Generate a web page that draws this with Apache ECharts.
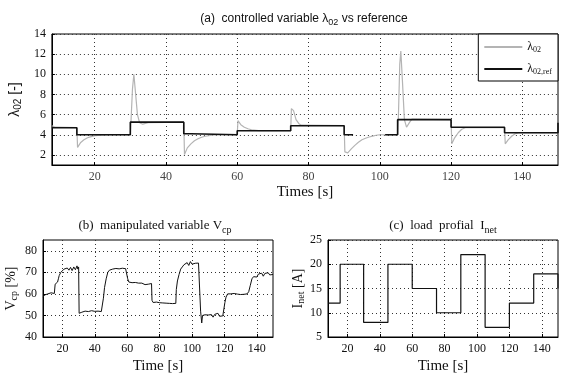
<!DOCTYPE html>
<html>
<head>
<meta charset="utf-8">
<script src="https://cdn.jsdelivr.net/npm/echarts@6/dist/echarts.min.js"></script>
<style>
  html, body { margin: 0; padding: 0; background: #fff; }
  #chart { width: 580px; height: 375px; }
</style>
</head>
<body>
<div id="chart"></div>
<script>
// time ticks shared by all three plots
const timeTicks = [20, 40, 60, 80, 100, 120, 140]
const lamTicks = [2, 4, 6, 8, 10, 12, 14]
const vcpTicks = [40, 50, 60, 70, 80]
const inetTicks = [5, 10, 15, 20, 25]

// (a) measured lambda_O2 [t, value]
const lam02 = [
  [8, 4.9], [9, 4.75], [15, 4.7], [15.2, 2.75], [16, 3.2], [17, 3.5], [18, 3.7], [19, 3.82], [20, 3.9],
  [22, 3.97], [24, 4.0], [30, 4.0], [30.2, 5.4], [30.6, 8.5], [31, 10.0], [31.5, 8.0], [32, 6.0],
  [32.6, 5.2], [33.5, 5.05], [35, 5.2], [45, 5.25], [45.2, 2.05], [46, 2.7], [47, 3.1], [48, 3.4],
  [49, 3.6], [50, 3.75], [51, 3.85], [53, 3.95], [55, 4.0], [60, 4.0], [60.2, 5.4], [61, 5.0],
  [62, 4.75], [63, 4.6], [64, 4.5], [66, 4.42], [75, 4.4], [75.2, 6.6], [75.8, 6.4], [76.5, 5.5],
  [77.3, 5.1], [78, 4.95], [90, 4.9], [90.2, 2.3], [91, 2.2], [92, 2.6], [93, 2.95], [94, 3.25],
  [95, 3.5], [96, 3.65], [97, 3.78], [98, 3.87], [99, 3.95], [100, 4.0], [105, 4.0], [105.2, 5.5],
  [105.6, 11.0], [105.9, 12.3], [106.4, 9.0], [106.9, 5.5], [107.5, 4.75], [108.3, 5.2], [109, 5.55],
  [120, 5.5], [120.2, 3.1], [121, 3.7], [122, 4.2], [123, 4.55], [124, 4.7], [135, 4.7], [135.2, 3.1],
  [136, 3.5], [137, 3.85], [138, 4.1], [139, 4.2], [150, 4.2]
]
// (a) reference lambda_O2,ref
const lam02ref = [
  [8, 4.7], [15, 4.7], [15, 4.0], [30, 4.0], [30, 5.25], [45, 5.25], [45, 4.1], [47, 4.1], [47, 4.0],
  [60, 4.0], [60, 4.4], [75, 4.4], [75, 4.9], [90, 4.9], [90, 4.0], [92.5, 4.0], [96, '-'],
  [101.5, 4.0], [105, 4.0], [105, 5.5], [120, 5.5], [120, 4.75], [135, 4.75], [135, 4.2],
  [150, 4.2], [150, 5.2]
]
// (b) compressor voltage V_cp [%]
const vcp = [
  [8, 58.5], [9, 59.5], [10, 59], [11, 60], [12, 59.2], [13, 60.5], [14, 59.8], [15, 60.2],
  [15.5, 64.5], [16, 65], [17, 65.5], [17.5, 67], [18, 68.5], [19, 70], [20, 70.5], [21, 71.5],
  [22, 70.8], [23, 72], [24, 71], [25, 72.3], [26, 70.8], [27, 72.5], [28, 71.2], [29, 73],
  [29.5, 71.5], [30, 72.5], [30.3, 51], [31, 50.5], [32, 51.5], [33, 51.2], [34, 52], [35, 51.3],
  [36, 51.8], [37, 51], [38, 52.2], [39, 51.4], [40, 51.9], [41, 51.2], [42, 52], [43, 51.4],
  [44, 51.8], [45, 51.5], [45.3, 58], [46, 63], [47, 67], [48, 70], [49, 71], [50, 70.5],
  [51, 71.5], [52, 71.2], [53, 71.8], [54, 71], [55, 71.6], [56, 71.2], [57, 71.9], [58, 71.1],
  [59, 71.7], [60, 71.3], [60.3, 67], [61, 65.5], [62, 66], [63, 65.2], [64, 64.8], [65, 65.3],
  [66, 64.5], [67, 65], [68, 64.2], [69, 65], [70, 64.8], [71, 64.3], [72, 65.2], [73, 64.5],
  [74, 65], [75, 64.8], [75.3, 57], [76, 56], [77, 55.5], [78, 56.2], [79, 55.4], [80, 55.9],
  [81, 55.2], [82, 55.8], [83, 55.1], [84, 55.7], [85, 55], [86, 55.6], [87, 54.9], [88, 55.5],
  [89, 55.2], [90, 55.6], [90.3, 62], [91, 66], [92, 69], [93, 71.5], [94, 72.5], [95, 73.5],
  [96, 73], [97, 74.5], [98, 73.2], [99, 75], [100, 73.8], [101, 74.6], [102, 74.2], [103, 74.5],
  [104, 74.3], [105, 74.4], [105.3, 52], [106, 46.5], [106.5, 50], [107, 49.5], [108, 50.3],
  [109, 49.8], [110, 50.2], [111, 49.5], [112, 50.4], [113, 49.2], [114, 50.5], [115, 49.8],
  [116, 51], [117, 49.6], [118, 50.3], [119, 49.8], [120, 50.5], [120.3, 56], [121, 58.5],
  [122, 60], [123, 59.2], [124, 60], [125, 59.5], [126, 60.2], [127, 59.4], [128, 59.9],
  [129, 59.1], [130, 59.7], [131, 59.2], [132, 59.8], [133, 59.4], [134, 60], [135, 61],
  [136, 64], [137, 67], [138, 68], [139, 68.5], [140, 67.8], [141, 69.2], [142, 68.4],
  [143, 69.6], [144, 68.2], [145, 69.5], [146, 68.6], [147, 69.8], [148, 68.8], [149, 69.5], [150, 69]
]
// (c) load profile I_net [A]
const inet = [
  [8, 12], [15.5, 12], [15.5, 20], [30, 20], [30, 8], [45, 8], [45, 20], [60, 20], [60, 15],
  [75, 15], [75, 10], [90, 10], [90, 22], [105, 22], [105, 7], [120, 7], [120, 12], [135, 12],
  [135, 18], [150, 18], [150, 15]
]

const serif = 'Liberation Serif'
const sans = 'Liberation Sans'
const grids = [
  { left: 40, right: 22, top: 34, height: 131 },
  { left: 43, right: 307, top: 240, height: 98 },
  { left: 328, right: 22, top: 240, height: 98 }
]

function xAx (gi, name) {
  return {
    type: 'value', gridIndex: gi, min: 8, max: 150,
    name: name, nameLocation: 'middle', nameGap: gi === 0 ? 20 : 22,
    nameTextStyle: { fontFamily: serif, fontSize: 15, color: '#111' },
    axisLine: { show: true, onZero: false, lineStyle: { color: '#000', width: 1 } },
    axisTick: { inside: true, length: 3, customValues: timeTicks, lineStyle: { color: '#000' } },
    axisLabel: { customValues: timeTicks, fontFamily: serif, fontSize: 12, color: gi === 0 ? '#444' : '#111', margin: 6 },
    splitLine: { show: true, lineStyle: { color: '#333', type: [1, 3], width: 1 } }
  }
}
function yAx (gi, min, max, ticks, name, gap) {
  return {
    type: 'value', gridIndex: gi, min: min, max: max,
    name: name, nameLocation: 'middle', nameGap: gap,
    nameTextStyle: {
      fontFamily: gi === 0 ? sans : serif, fontSize: 14, color: '#111',
      rich: {
        m: { fontFamily: gi === 0 ? sans : serif, fontSize: 14, color: '#111' },
        s: { fontFamily: gi === 0 ? sans : serif, fontSize: 10, color: '#111', verticalAlign: 'bottom', padding: [6, 0, 0, 0] }
      }
    },
    axisLine: { show: true, onZero: false, lineStyle: { color: '#000', width: 1 } },
    axisTick: { inside: true, length: 3, customValues: ticks, lineStyle: { color: '#000' } },
    axisLabel: { customValues: ticks, fontFamily: serif, fontSize: 12, color: '#111', margin: 6 },
    splitLine: { show: true, lineStyle: { color: '#333', type: [1, 3], width: 1 } }
  }
}

const titleRich = function (font, size) {
  return {
    fontFamily: font, fontSize: size, fontWeight: 'normal', color: '#111',
    rich: {
      m: { fontFamily: font, fontSize: size, color: '#111' },
      s: { fontFamily: font, fontSize: size - 3, color: '#111', padding: [8, 0, 0, 0] }
    }
  }
}

const option = {
  animation: false,
  backgroundColor: '#fff',
  title: [
    { text: '{m|(a)  controlled variable λ}{s|02}{m| vs reference}', left: 299, textAlign: 'center', top: 5, textStyle: titleRich(sans, 12) },
    { text: '{m|(b)  manipulated variable V}{s|cp}', left: 150, textAlign: 'center', top: 212, textStyle: titleRich(serif, 13) },
    { text: '{m|(c)  load  profial  I}{s|net}', left: 438, textAlign: 'center', top: 212, textStyle: titleRich(serif, 13) }
  ],
  legend: {
    orient: 'vertical', right: 22, top: 34, width: 81,
    backgroundColor: '#fff', borderColor: '#000', borderWidth: 1, borderRadius: 0,
    padding: [7, 6, 5, 6], itemGap: 9, itemWidth: 38, itemHeight: 2, icon: 'rect',
    data: ['lam', 'ref'],
    formatter: function (name) {
      return name === 'lam' ? '{m|λ}{s|02}' : '{m|λ}{s|02,ref}'
    },
    textStyle: {
      rich: {
        m: { fontFamily: serif, fontSize: 12, color: '#111' },
        s: { fontFamily: serif, fontSize: 8, color: '#111', padding: [6, 0, 0, 0] }
      }
    }
  },
  grid: grids.map(g => Object.assign({ show: true, borderColor: '#000', borderWidth: 1, backgroundColor: '#fff' }, g)),
  xAxis: [xAx(0, 'Times [s]'), xAx(1, 'Time [s]'), xAx(2, 'Time [s]')],
  yAxis: [
    yAx(0, 1, 14, lamTicks, '{m|λ}{s|02}{m| [-]}', 22),
    yAx(1, 40, 85, vcpTicks, '{m|V}{s|cp}{m| [%]}', 24),
    yAx(2, 5, 25, inetTicks, '{m|I}{s|net}{m| [A]}', 22)
  ],
  series: [
    { name: 'lam', type: 'line', data: lam02, showSymbol: false, color: '#b4b4b4', lineStyle: { width: 1.2 }, xAxisIndex: 0, yAxisIndex: 0 },
    { name: 'ref', type: 'line', data: lam02ref, showSymbol: false, color: '#111', lineStyle: { width: 1.6 }, xAxisIndex: 0, yAxisIndex: 0 },
    { name: 'vcp', type: 'line', data: vcp, showSymbol: false, color: '#111', lineStyle: { width: 1 }, xAxisIndex: 1, yAxisIndex: 1 },
    { name: 'inet', type: 'line', data: inet, showSymbol: false, color: '#111', lineStyle: { width: 1.2 }, xAxisIndex: 2, yAxisIndex: 2 }
  ]
}

const chart = echarts.init(document.getElementById('chart'))
chart.setOption(option)
</script>
</body>
</html>
